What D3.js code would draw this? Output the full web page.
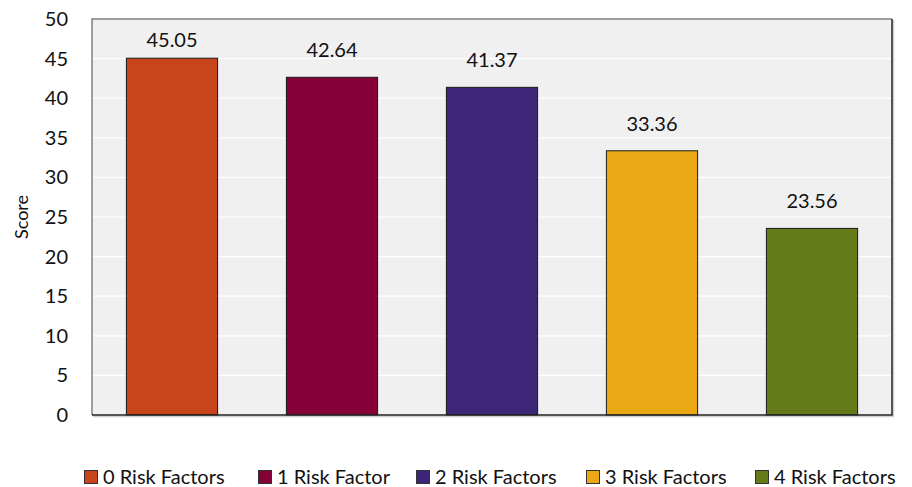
<!DOCTYPE html>
<html>
<head>
<meta charset="utf-8">
<script src="https://cdn.jsdelivr.net/npm/d3@7"></script>
<style>
  html, body { margin: 0; padding: 0; background: #fff; }
  svg { display: block; font-family: Lato, "Open Sans", sans-serif; }
</style>
</head>
<body>
<svg id="chart" width="912" height="487"></svg>
<script>
// Scores by number of risk factors
const categories = ["0 Risk Factors", "1 Risk Factor", "2 Risk Factors", "3 Risk Factors", "4 Risk Factors"];
const scores = [45.05, 42.64, 41.37, 33.36, 23.56];
const colors = ["#C8441A", "#840036", "#3D2577", "#EAA914", "#657A19"];
const yTicks = [0, 5, 10, 15, 20, 25, 30, 35, 40, 45, 50];

const svg = d3.select("#chart");
const margin = { left: 92, top: 19, right: 20, bottom: 72 };
const W = 912, H = 487;
const plotW = W - margin.left - margin.right;
const plotH = H - margin.top - margin.bottom;

const x = d3.scaleBand().domain(categories).range([0, plotW]).paddingInner(0.43).paddingOuter(0.215);
const y = d3.scaleLinear().domain([0, 50]).range([plotH, 0]);

const g = svg.append("g").attr("transform", `translate(${margin.left},${margin.top})`);

// plot background
g.append("rect").attr("x", 0).attr("y", 0).attr("width", plotW).attr("height", plotH)
  .attr("fill", "#F0F0F0");

// gridlines
g.append("g").selectAll("line").data(yTicks.filter(t => t > 0 && t < 50)).join("line")
  .attr("x1", 0).attr("x2", plotW)
  .attr("y1", d => y(d)).attr("y2", d => y(d))
  .attr("stroke", "#FFFFFF").attr("stroke-width", 1.2);

// bars
g.append("g").selectAll("rect").data(categories).join("rect")
  .attr("x", d => x(d))
  .attr("y", (d, i) => y(scores[i]))
  .attr("width", x.bandwidth())
  .attr("height", (d, i) => plotH - y(scores[i]))
  .attr("fill", (d, i) => colors[i])
  .attr("stroke", "#1a1a1a").attr("stroke-width", 1);

// value labels above bars, kept inside the plot frame
g.append("g").selectAll("text").data(categories).join("text")
  .attr("x", d => x(d) + x.bandwidth() / 2)
  .attr("y", (d, i) => Math.max(y(scores[i]) - 20, 28))
  .attr("text-anchor", "middle")
  .attr("font-size", 20)
  .attr("fill", "#111")
  .text((d, i) => scores[i].toFixed(2));

// plot frame: light on top/left, dark on right/bottom
g.append("path").attr("d", `M0,${plotH}V0H${plotW}`).attr("fill", "none")
  .attr("stroke", "#808080").attr("stroke-width", 1.5);
g.append("path").attr("d", `M${plotW + 1.5},1V${plotH + 1.5}H1`).attr("fill", "none")
  .attr("stroke", "#D0D0D0").attr("stroke-width", 1.5);
g.append("path").attr("d", `M${plotW},0V${plotH}H0`).attr("fill", "none")
  .attr("stroke", "#222").attr("stroke-width", 1.5);

// y axis
const yAxis = g.append("g").call(d3.axisLeft(y).tickValues(yTicks).tickSize(0).tickPadding(24));
yAxis.select(".domain").remove();
yAxis.selectAll("text").attr("font-size", 20).attr("fill", "#111")
  .attr("font-family", "Lato, 'Open Sans', sans-serif");

// y axis title
svg.append("text")
  .attr("transform", `translate(28,${margin.top + plotH / 2}) rotate(-90)`)
  .attr("text-anchor", "middle")
  .attr("font-size", 18).attr("fill", "#111")
  .text("Score");

// legend
const legendX = [84, 258, 416, 586, 755];
const legend = svg.append("g").selectAll("g").data(categories).join("g")
  .attr("transform", (d, i) => `translate(${legendX[i]},470)`);
legend.append("rect").attr("x", 0.5).attr("y", 0.5).attr("width", 13).attr("height", 13)
  .attr("fill", (d, i) => colors[i]).attr("stroke", "#333").attr("stroke-width", 1);
legend.append("text").attr("x", 19).attr("y", 7).attr("dy", "0.36em")
  .attr("font-size", 20).attr("fill", "#111")
  .text(d => d);
</script>
</body>
</html>
